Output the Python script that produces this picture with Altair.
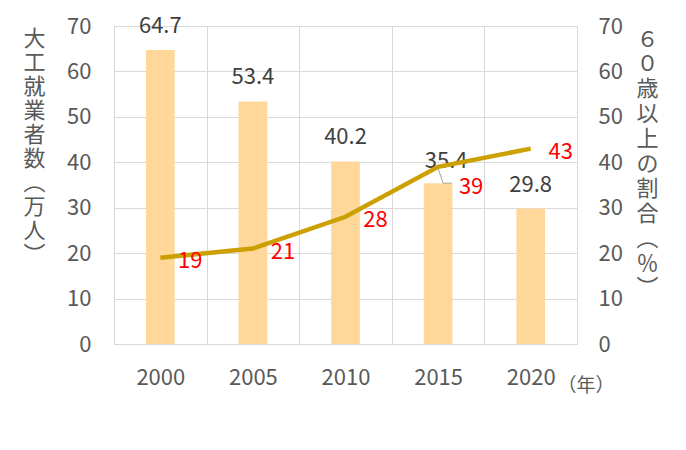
import altair as alt
import pandas as pd

years = ["2000", "2005", "2010", "2015", "2020"]
workers = [64.7, 53.4, 40.2, 35.4, 29.8]
share60 = [19, 21, 28, 39, 43]

df = pd.DataFrame({"year": years, "workers": workers, "share": share60})

CJK = "Noto Sans CJK JP"
NUM = "Noto Sans CJK JP"
GRAY = "#595959"
NUMSIZE = 22
left_title = ["大", "工", "就", "業", "者", "数", "︵", "万", "人", "︶"]
right_title = ["６", "０", "歳", "以", "上", "の", "割", "合", "︵", "％", "︶"]

x = alt.X("year:N", scale=alt.Scale(paddingInner=0, paddingOuter=0),
          axis=alt.Axis(title="（年）", titleFontSize=19, titleColor=GRAY, titleFontWeight="normal",
                        titleX=443, titleY=41, titleAlign="left", titleBaseline="middle",
                        labelAngle=0, labelFontSize=NUMSIZE, labelColor=GRAY, labelPadding=23,
                        tickBand="extent", ticks=False, domain=False,
                        grid=True, gridColor="#D9D9D9", labelFont=NUM, titleFont=CJK))

yl = alt.Scale(domain=[0, 70])
base = alt.Chart(df)

bars = base.mark_bar(color="#FFD899", width=alt.RelativeBandSize(0.31)).encode(
    x=x,
    y=alt.Y("workers:Q", scale=yl,
            axis=alt.Axis(values=list(range(0, 71, 10)), title=left_title, titleAngle=0,
                          titleX=-80, titleY=2, titleAlign="center", titleBaseline="top",
                          titleFontSize=22, titleLineHeight=24, titleColor=GRAY,
                          titleFontWeight="normal", titleFont=CJK,
                          labelFontSize=NUMSIZE, labelColor=GRAY, labelPadding=23, labelFont=NUM,
                          ticks=False, domain=False, grid=True, gridColor="#D9D9D9")),
)

bar_labels = base.transform_filter(alt.datum.year != "2015").mark_text(
    fontSize=NUMSIZE, color="#404040", dy=-24, baseline="middle", font=NUM).encode(
    x="year:N", y=alt.Y("workers:Q", scale=yl), text=alt.Text("workers:Q", format=".1f"))

bar_label_2015 = base.transform_filter(alt.datum.year == "2015").mark_text(
    fontSize=NUMSIZE, color="#404040", dy=-22, dx=8, baseline="middle", font=NUM).encode(
    x="year:N", y=alt.Y("workers:Q", scale=yl), text=alt.Text("workers:Q", format=".1f"))

leader_df = pd.DataFrame({"year": ["2015"], "top": [38.7], "bar": [35.4]})
leader1 = alt.Chart(leader_df).mark_rule(color="#A6A6A6", strokeWidth=1, x2Offset=5).encode(
    x="year:N", x2="year:N", y=alt.Y("top:Q", scale=yl), y2="bar:Q")
leader2 = alt.Chart(leader_df).mark_rule(color="#A6A6A6", strokeWidth=1, xOffset=5, x2Offset=14).encode(
    x="year:N", x2="year:N", y=alt.Y("bar:Q", scale=yl))

left = alt.layer(bars, bar_labels, bar_label_2015, leader1, leader2)

yr = alt.Scale(domain=[0, 70])
line = base.mark_line(color="#CCA000", strokeWidth=4.5).encode(
    x="year:N",
    y=alt.Y("share:Q", scale=yr,
            axis=alt.Axis(values=list(range(0, 71, 10)), orient="right", title=right_title, titleAngle=0,
                          titleX=70, titleY=3, titleAlign="center", titleBaseline="top",
                          titleFontSize=22, titleLineHeight=24.9, titleColor=GRAY,
                          titleFontWeight="normal", titleFont=CJK,
                          labelFontSize=NUMSIZE, labelColor=GRAY, labelPadding=21, labelFont=NUM,
                          ticks=False, domain=False, grid=False)),
)
line_labels = base.transform_filter(alt.datum.year != "2015").mark_text(
    fontSize=NUMSIZE, color="#FF0000", dx=30, dy=3, baseline="middle", font=NUM).encode(
    x="year:N", y=alt.Y("share:Q", scale=yr), text="share:Q")
line_label_2015 = base.transform_filter(alt.datum.year == "2015").mark_text(
    fontSize=NUMSIZE, color="#FF0000", dx=33, dy=20, baseline="middle", font=NUM).encode(
    x="year:N", y=alt.Y("share:Q", scale=yr), text="share:Q")

right = alt.layer(line, line_labels, line_label_2015)

chart = alt.layer(left, right).resolve_scale(y="independent").properties(
    width=463, height=318,
    autosize=alt.AutoSizeParams(type="none"),
    padding={"left": 106, "top": 18, "right": 101, "bottom": 98},
).configure_view(stroke="#D9D9D9").configure(background="white")

chart.save("out.html", embed_options={"renderer": "svg", "actions": False})
